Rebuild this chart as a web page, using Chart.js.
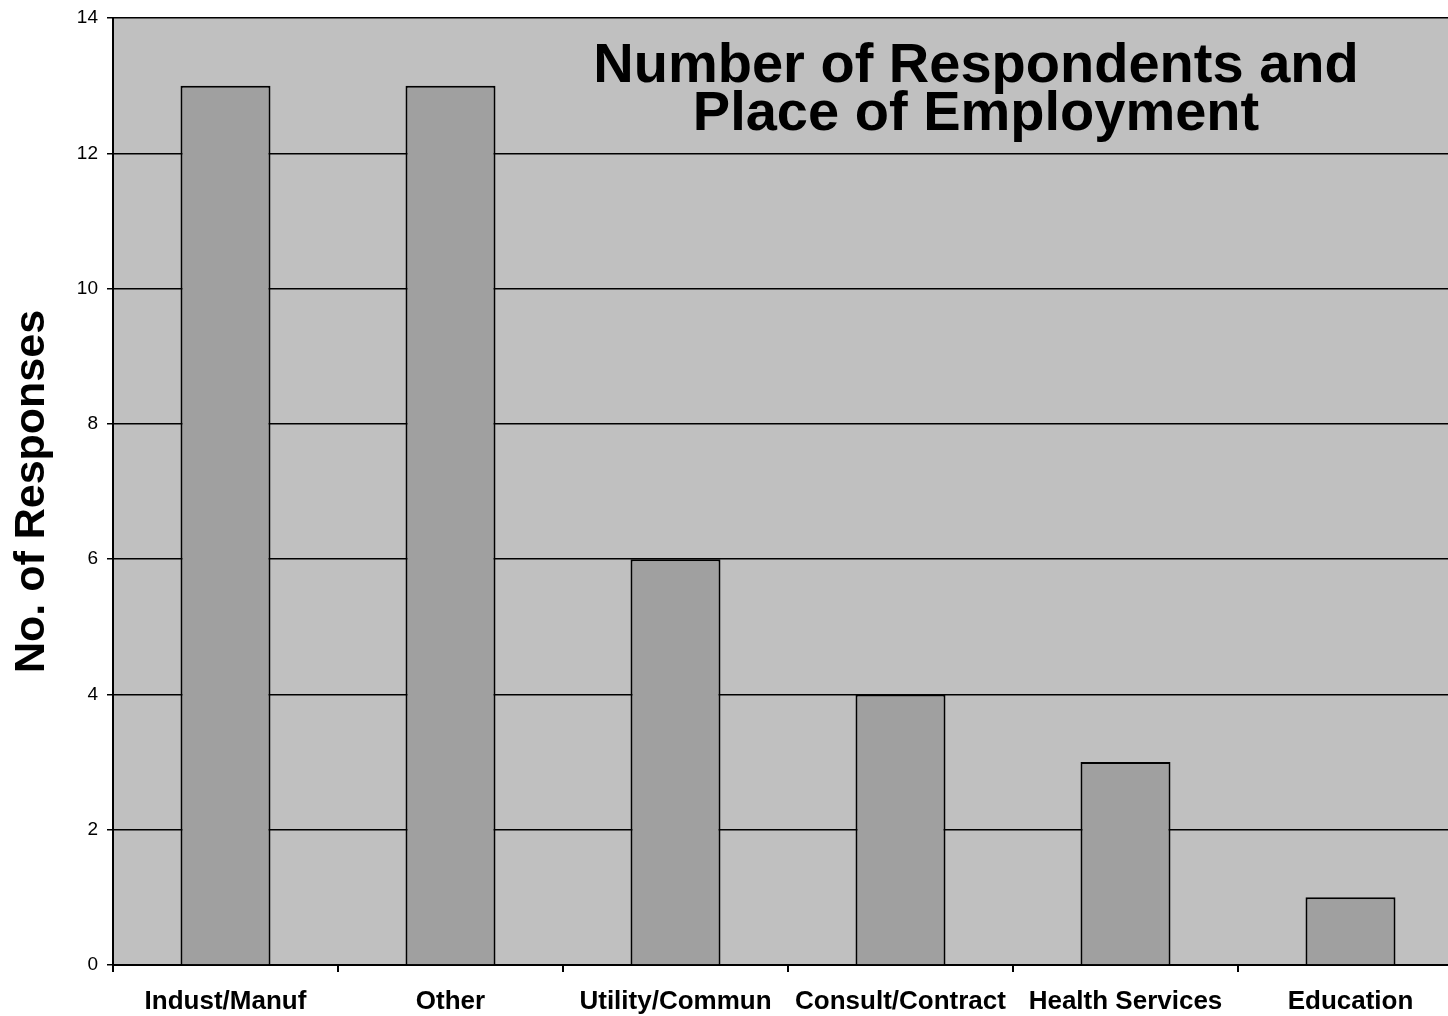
<!DOCTYPE html>
<html>
<head>
<meta charset="utf-8">
<script src="https://cdn.jsdelivr.net/npm/chart.js@4.4.1/dist/chart.umd.min.js"></script>
<style>
  body { margin: 0; background: #fff; overflow: hidden; }
  /* 원본은 플롯 오른쪽이 잘려 있어서 캔버스를 조금 넓게 두고 자름 */
  #wrap { width: 1448px; height: 1016px; overflow: hidden; }
</style>
</head>
<body>
<div id="wrap"><canvas id="chart" width="1463" height="1016"></canvas></div>
<script>
// 데이터
const categories = ['Indust/Manuf', 'Other', 'Utility/Commun', 'Consult/Contract', 'Health Services', 'Education'];
const responses = [13, 13, 6, 4, 3, 1];
const titleLines = ['Number of Respondents and', 'Place of Employment'];
const yTitle = 'No. of Responses';

const FONT = '"Liberation Sans", Arial, sans-serif';

// 플롯 영역 배경
const plotBg = {
  id: 'plotBg',
  beforeDraw(chart) {
    const { ctx, chartArea: a } = chart;
    ctx.save();
    ctx.fillStyle = '#C0C0C0';
    ctx.fillRect(a.left, a.top, a.right - a.left, a.bottom - a.top);
    ctx.restore();
  }
};

// 차트 안쪽 제목
const innerTitle = {
  id: 'innerTitle',
  afterDatasetsDraw(chart) {
    const { ctx } = chart;
    ctx.save();
    ctx.fillStyle = '#000';
    ctx.font = 'bold 56px ' + FONT;
    ctx.textAlign = 'center';
    ctx.textBaseline = 'alphabetic';
    titleLines.forEach((t, i) => ctx.fillText(t, 976, 82 + i * 48));
    ctx.restore();
  }
};

new Chart(document.getElementById('chart'), {
  type: 'bar',
  data: {
    labels: categories,
    datasets: [{
      data: responses,
      backgroundColor: '#A0A0A0',
      borderColor: '#000',
      borderWidth: 2,
      barPercentage: 0.4,
      categoryPercentage: 1.0,
    }]
  },
  options: {
    responsive: false,
    animation: false,
    layout: { padding: { top: 18, right: 0, bottom: 0, left: 0 } },
    plugins: {
      legend: { display: false },
      tooltip: { enabled: false },
      title: { display: false }
    },
    scales: {
      x: {
        offset: true,
        grid: {
          offset: true,
          drawOnChartArea: false,
          color: '#000',
          lineWidth: 2,
          tickLength: 7
        },
        border: { color: '#000', width: 2 },
        ticks: {
          color: '#000',
          font: { family: FONT, size: 26, weight: 'bold' },
          padding: 14,
          maxRotation: 0,
          autoSkip: false
        },
        afterFit(scale) { scale.height = 51; }
      },
      y: {
        min: 0,
        max: 14,
        ticks: {
          stepSize: 2,
          color: '#000',
          font: { family: FONT, size: 19 },
          padding: 9
        },
        grid: {
          color: '#000',
          lineWidth: 1.5,
          tickLength: 6
        },
        border: { color: '#000', width: 2 },
        title: {
          display: true,
          text: yTitle,
          color: '#000',
          font: { family: FONT, size: 43, weight: 'bold' },
          padding: { top: 6, bottom: 0 }
        },
        afterFit(scale) {
          scale.width = 113;
          scale.paddingTop = 0;
          scale.paddingBottom = 0;
        }
      }
    }
  },
  plugins: [plotBg, innerTitle]
});
</script>
</body>
</html>
